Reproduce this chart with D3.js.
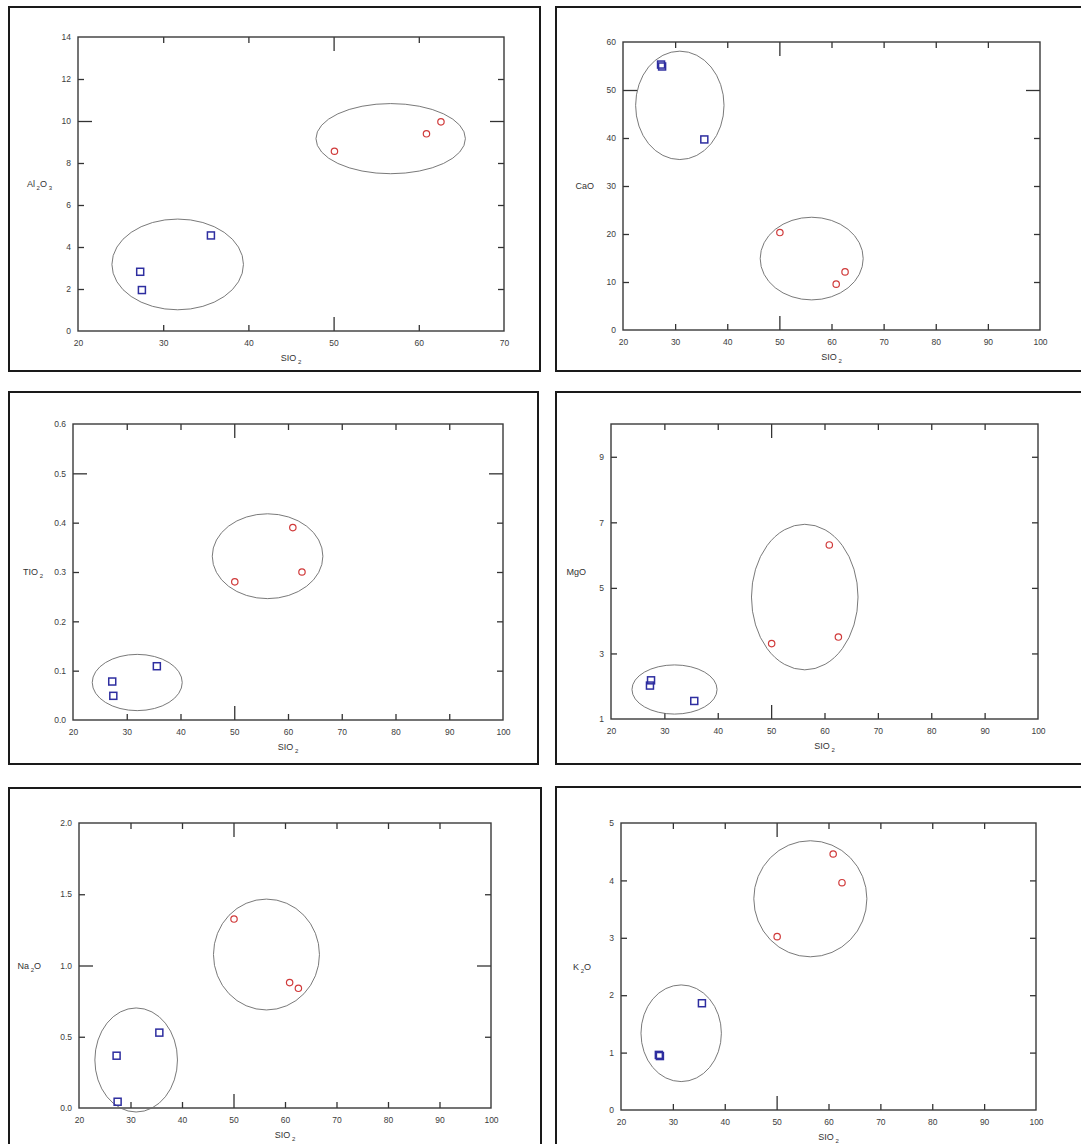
<!DOCTYPE html>
<html><head><meta charset="utf-8">
<script src="https://cdn.jsdelivr.net/npm/d3@7"></script>
<style>html,body{margin:0;padding:0;background:#fff;} svg{display:block;}</style>
</head><body>
<script>
// ---- data ----
const sio2Blue = [27.3, 27.5, 35.6];
const sio2Red  = [50.1, 60.9, 62.6];

const al2o3Blue = [2.82, 1.95, 4.55];
const al2o3Red  = [8.56, 9.39, 9.96];
const caoBlue   = [55.3, 54.9, 39.7];
const caoRed    = [20.3, 9.55, 12.1];
const tio2Blue  = [0.078, 0.049, 0.109];
const tio2Red   = [0.28, 0.39, 0.30];
const mgoBlue   = [2.02, 2.18, 1.55];
const mgoRed    = [3.30, 6.31, 3.50];
const na2oBlue  = [0.367, 0.044, 0.529];
const na2oRed   = [1.326, 0.88, 0.84];
const k2oBlue   = [0.96, 0.94, 1.86];
const k2oRed    = [3.02, 4.46, 3.96];

// group envelopes: [centre SiO2, centre oxide, half-width SiO2, half-height oxide]
const al2o3Groups = [[31.7, 3.17, 7.72, 2.16], [56.7, 9.16, 8.77, 1.67]];
const caoGroups   = [[30.9, 46.8, 8.48, 11.29], [56.2, 14.88, 9.88, 8.61]];
const tio2Groups  = [[31.95, 0.076, 8.37, 0.057], [56.2, 0.332, 10.29, 0.086]];
const mgoGroups   = [[31.9, 1.90, 7.97, 0.75], [56.3, 4.72, 9.98, 2.22]];
const na2oGroups  = [[31.1, 0.337, 8.02, 0.365], [56.4, 1.077, 10.29, 0.389]];
const k2oGroups   = [[31.6, 1.337, 7.75, 0.842], [56.5, 3.68, 10.9, 1.011]];

// tick labels
const xTicksNarrow = [20, 30, 40, 50, 60, 70];
const xTicksWide   = [20, 30, 40, 50, 60, 70, 80, 90, 100];
const al2o3Ticks = [0, 2, 4, 6, 8, 10, 12, 14];
const caoTicks   = [0, 10, 20, 30, 40, 50, 60];
const tio2Ticks  = [0.0, 0.1, 0.2, 0.3, 0.4, 0.5, 0.6];
const mgoTicks   = [1, 3, 5, 7, 9];
const na2oTicks  = [0.0, 0.5, 1.0, 1.5, 2.0];
const k2oTicks   = [0, 1, 2, 3, 4, 5];

const xTitle = [["SIO", false], [" 2", true]];
const al2o3Title = [["Al", false], [" 2", true], ["O", false], [" 3", true]];
const caoTitle   = [["CaO", false]];
const tio2Title  = [["TIO", false], [" 2", true]];
const mgoTitle   = [["MgO", false]];
const na2oTitle  = [["Na", false], [" 2", true], ["O", false]];
const k2oTitle   = [["K", false], [" 2", true], ["O", false]];

// ---- layout / style ----
const panels = [
  {frame:[9,7,540,371], plot:[78,37,504,331], xDom:[20,70], yDom:[0,14], xT:xTicksNarrow, yT:al2o3Ticks, yF:d3.format("d"),
   blue:al2o3Blue, red:al2o3Red, groups:al2o3Groups, title:al2o3Title, longX:50, longY:10, yOff:26},
  {frame:[556,7,1090,371], plot:[623,42,1040,330], xDom:[20,100], yDom:[0,60], xT:xTicksWide, yT:caoTicks, yF:d3.format("d"),
   blue:caoBlue, red:caoRed, groups:caoGroups, title:caoTitle, longX:50, longY:50, yOff:29},
  {frame:[9,392,538,764], plot:[73,424,503,720], xDom:[20,100], yDom:[0,0.6], xT:xTicksWide, yT:tio2Ticks, yF:d3.format(".1f"),
   blue:tio2Blue, red:tio2Red, groups:tio2Groups, title:tio2Title, longX:50, longY:0.5, yOff:30},
  {frame:[556,392,1090,764], plot:[611,424,1038,719], xDom:[20,100], yDom:[1,10], xT:xTicksWide, yT:mgoTicks, yF:d3.format("d"),
   blue:mgoBlue, red:mgoRed, groups:mgoGroups, title:mgoTitle, longX:50, longY:null, yOff:25},
  {frame:[9,788,541,1160], plot:[79,823,491,1108], xDom:[20,100], yDom:[0,2], xT:xTicksWide, yT:na2oTicks, yF:d3.format(".1f"),
   blue:na2oBlue, red:na2oRed, groups:na2oGroups, title:na2oTitle, longX:50, longY:1.0, yOff:38},
  {frame:[556,787,1090,1160], plot:[621,823,1036,1110], xDom:[20,100], yDom:[0,5], xT:xTicksWide, yT:k2oTicks, yF:d3.format("d"),
   blue:k2oBlue, red:k2oRed, groups:k2oGroups, title:k2oTitle, longX:50, longY:null, yOff:30}
];

const FONT = "'Liberation Sans', Arial, sans-serif";
const SHORT = 6, LONG = 14;

const svg = d3.select("body").append("svg").attr("width", 1081).attr("height", 1144);

function addTitle(sel, parts) {
  parts.forEach(([t, sub]) => {
    const ts = sel.append("tspan").text(t);
    if (sub) ts.attr("font-size", 6).attr("baseline-shift", "-2.5");
  });
}

panels.forEach(p => {
  const [fx0, fy0, fx1, fy1] = p.frame;
  const [px0, py0, px1, py1] = p.plot;
  const x = d3.scaleLinear().domain(p.xDom).range([px0, px1]);
  const y = d3.scaleLinear().domain(p.yDom).range([py1, py0]);
  const g = svg.append("g");

  g.append("rect").attr("x", fx0).attr("y", fy0).attr("width", fx1 - fx0).attr("height", fy1 - fy0)
    .attr("fill", "none").attr("stroke", "#1a1a1a").attr("stroke-width", 2);

  const inner = p.xT.filter(v => v !== p.xDom[0] && v !== p.xDom[1]);
  const innerY = p.yT.filter(v => v !== p.yDom[0] && v !== p.yDom[1]);
  const xl = v => (v === p.longX ? LONG : SHORT);
  const yl = v => (v === p.longY ? LONG : SHORT);

  function styleAxis(a) {
    a.select(".domain").remove();
    a.attr("font-family", FONT).attr("font-size", 8.5);
    a.selectAll("line").attr("stroke", "#333").attr("stroke-width", 1.3);
    a.selectAll("text").attr("fill", "#3c3c3c");
  }

  // bottom axis with labels
  const ab = g.append("g").attr("transform", `translate(0,${py1})`)
    .call(d3.axisBottom(x).tickValues(p.xT).tickSize(0).tickPadding(9).tickFormat(d3.format("d")));
  styleAxis(ab);
  const tb = g.append("g").attr("transform", `translate(0,${py1})`).call(d3.axisBottom(x).tickValues(inner).tickFormat(""));
  tb.selectAll(".tick line").attr("y2", d => -xl(d));
  styleAxis(tb);
  const tt = g.append("g").attr("transform", `translate(0,${py0})`).call(d3.axisTop(x).tickValues(inner).tickFormat(""));
  tt.selectAll(".tick line").attr("y2", d => xl(d));
  styleAxis(tt);
  const al = g.append("g").attr("transform", `translate(${px0},0)`)
    .call(d3.axisLeft(y).tickValues(p.yT).tickSize(0).tickPadding(7).tickFormat(p.yF));
  styleAxis(al);
  const tl = g.append("g").attr("transform", `translate(${px0},0)`).call(d3.axisLeft(y).tickValues(innerY).tickFormat(""));
  tl.selectAll(".tick line").attr("x2", d => yl(d));
  styleAxis(tl);
  const tr = g.append("g").attr("transform", `translate(${px1},0)`).call(d3.axisRight(y).tickValues(innerY).tickFormat(""));
  tr.selectAll(".tick line").attr("x2", d => -yl(d));
  styleAxis(tr);

  g.append("rect").attr("x", px0).attr("y", py0).attr("width", px1 - px0).attr("height", py1 - py0)
    .attr("fill", "none").attr("stroke", "#3a3a3a").attr("stroke-width", 1.4);

  g.selectAll("ellipse").data(p.groups).join("ellipse")
    .attr("cx", d => x(d[0])).attr("cy", d => y(d[1]))
    .attr("rx", d => x(d[0] + d[2]) - x(d[0])).attr("ry", d => y(d[1]) - y(d[1] + d[3]))
    .attr("fill", "none").attr("stroke", "#6a6a6a").attr("stroke-width", 0.9);

  const bluePts = sio2Blue.map((s, i) => [s, p.blue[i]]);
  g.selectAll("rect.b").data(bluePts).join("rect").attr("class", "b")
    .attr("x", d => x(d[0]) - 3.5).attr("y", d => y(d[1]) - 3.5).attr("width", 7).attr("height", 7)
    .attr("fill", "none").attr("stroke", "#2e2ea0").attr("stroke-width", 1.5);

  const redPts = sio2Red.map((s, i) => [s, p.red[i]]);
  g.selectAll("circle.r").data(redPts).join("circle").attr("class", "r")
    .attr("cx", d => x(d[0])).attr("cy", d => y(d[1])).attr("r", 3.2)
    .attr("fill", "none").attr("stroke", "#d03a3a").attr("stroke-width", 1.2);

  const xt = g.append("text").attr("x", (px0 + px1) / 2).attr("y", py1 + 30).attr("text-anchor", "middle")
    .attr("font-family", FONT).attr("font-size", 9).attr("fill", "#333");
  addTitle(xt, xTitle);
  const yt = g.append("text").attr("x", px0 - p.yOff).attr("y", (py0 + py1) / 2 + 3).attr("text-anchor", "end")
    .attr("font-family", FONT).attr("font-size", 9).attr("fill", "#333");
  addTitle(yt, p.title);
});
</script>
</body></html>
